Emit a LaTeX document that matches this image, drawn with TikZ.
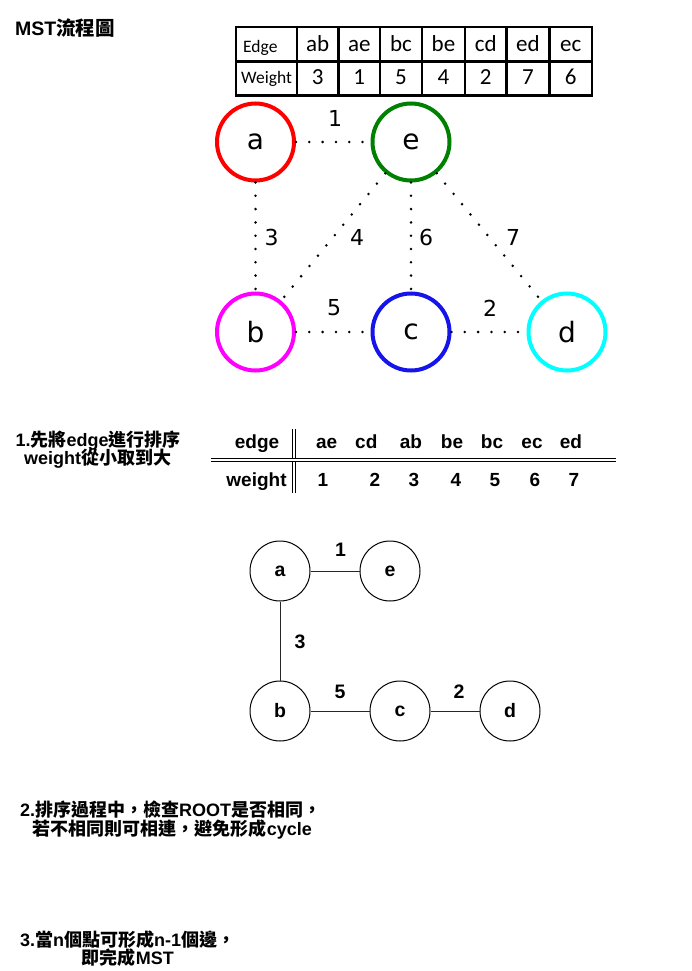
\documentclass[tikz,border=0pt]{standalone}
\usepackage{fontspec}
\setmainfont{Liberation Sans}
\newfontfamily\cjkfont{Noto Sans CJK TC}
\newfontfamily\calfont{Carlito}
\newfontfamily\dvfont{DejaVu Sans}
\newcommand\zh[1]{{\cjkfont\bfseries #1}}
\definecolor{nodered}{RGB}{255,0,0}
\definecolor{nodegreen}{RGB}{0,128,0}
\definecolor{nodemagenta}{RGB}{255,0,255}
\definecolor{nodeblue}{RGB}{20,20,235}
\definecolor{nodecyan}{RGB}{0,255,255}
\usetikzlibrary{positioning}

\begin{document}
\begin{tikzpicture}[
  x=1pt, y=-1pt,
  note/.style={anchor=base west, inner sep=0pt, font=\fontsize{18}{20}\selectfont\bfseries},
  tblline/.style={line width=2.7pt},
  tblhead/.style={anchor=base west, inner sep=0pt, font=\calfont\fontsize{17.5}{18}\selectfont},
  tblval/.style={anchor=base, inner sep=0pt, font=\calfont\fontsize{23}{23}\selectfont},
  g1node/.style={circle, line width=4pt, minimum size=77pt, inner sep=0pt, font=\dvfont\fontsize{28}{28}\selectfont},
  dotedge/.style={line width=2.8pt, line cap=round, dash pattern=on 0pt off 13.3pt},
  wlab/.style={inner sep=0pt, font=\dvfont\fontsize{22}{22}\selectfont},
  srt/.style={anchor=base, inner sep=0pt, font=\fontsize{19}{19}\selectfont\bfseries},
  g2node/.style={circle, draw, line width=1pt, minimum size=60pt, inner sep=0pt, font=\fontsize{19.5}{19.5}\selectfont\bfseries},
  g2edge/.style={line width=1pt, black!85},
  blab/.style={inner sep=0pt, font=\fontsize{19.5}{19.5}\selectfont\bfseries}
]
\useasboundingbox (0,0) rectangle (691,971);

% title
\node[note, font=\fontsize{19.5}{20}\selectfont\bfseries] (title) at (15,36) {MST\zh{流程圖}};

% edge table
\draw[tblline] (236,27) rectangle (592,95.5);
\draw[tblline] (236,61.5) -- (592,61.5);
\foreach \x in {297,338.5,380,422,465,506.5,549.5}
  \draw[tblline] (\x,27) -- (\x,95.5);
\node[tblhead] (hedge) at (243,53) {Edge};
\node[tblhead] (hweight) at (241,83.5) {Weight};
\foreach \e/\w/\x in {ab/3/317.75, ae/1/359.25, bc/5/401, be/4/443.5, cd/2/485.75, ed/7/528, ec/6/570.75}{
  \node[tblval] (t\e) at (\x,52) {\e};
  \node[tblval] (w\e) at (\x,85) {\w};
}

% graph
\node[g1node, draw=nodered] (a) at (255.5,142) {a};
\node[g1node, draw=nodegreen] (e) at (411,142) {e};
\node[g1node, draw=nodemagenta] (b) at (255.5,332) {b};
\node[g1node, draw=nodeblue] (c) at (411,332) {c};
\node[g1node, draw=nodecyan] (d) at (567,332) {d};

\draw[dotedge] (a) -- (e);
\draw[dotedge] (a) -- (b);
\draw[dotedge] (e) -- (b);
\draw[dotedge] (e) -- (c);
\draw[dotedge] (e) -- (d);
\draw[dotedge] (b) -- (c);
\draw[dotedge] (c) -- (d);

\node[wlab] (lae) at (335,118) {1};
\node[wlab] (lab) at (271.5,237) {3};
\node[wlab] (lbe) at (357,237) {4};
\node[wlab] (lce) at (426,237) {6};
\node[wlab] (lde) at (513,237) {7};
\node[wlab] (lbc) at (334,308) {5};
\node[wlab] (lcd) at (490,308) {2};

% step 1
\node[note] (s1a) at (15.5,446) {1.\zh{先將}edge\zh{進行排序}};
\node[note] (s1b) at (24,464.5) {weight\zh{從小取到大}};

\node[srt] (sedge) at (257,448) {edge};
\node[srt] (sweight) at (256.5,486.5) {weight};
\foreach \e/\x in {ae/326.7, cd/366.3, ab/411, be/452, bc/492, ec/532, ed/571}
  \node[srt] (s\e) at (\x,448) {\e};
\foreach \w/\x in {1/323, 2/375, 3/414, 4/456, 5/495, 6/535, 7/574}
  \node[srt] (n\w) at (\x,486.5) {\w};
\draw[double, double distance=2.3pt, line width=0.9pt] (294.3,429) -- (294.3,493);
\draw[double, double distance=2.3pt, line width=0.9pt] (211,460.2) -- (616,460.2);

% result tree
\node[g2node] (a2) at (280,571) {a};
\node[g2node] (e2) at (390,571) {e};
\node[g2node] (b2) at (280,711) {b};
\node[g2node] (c2) at (400,711) {c};
\node[g2node] (d2) at (510,711) {d};

\draw[g2edge] (a2) -- (e2);
\draw[g2edge] (a2) -- (b2);
\draw[g2edge] (b2) -- (c2);
\draw[g2edge] (c2) -- (d2);

\node[blab] (r1) at (340.5,550) {1};
\node[blab] (r3) at (300,641.5) {3};
\node[blab] (r5) at (340,691.5) {5};
\node[blab] (r2) at (459,691.5) {2};

% step 2, step 3
\node[note] (s2a) at (20,816.5) {2.\zh{排序過程中，檢查}ROOT\zh{是否相同，}};
\node[note] (s2b) at (32.7,835.5) {\zh{若不相同則可相連，避免形成}cycle};
\node[note] (s3a) at (20,946.5) {3.\zh{當}n\zh{個點可形成}n-1\zh{個邊，}};
\node[note] (s3b) at (81.7,964.3) {\zh{即完成}MST};
\end{tikzpicture}
\end{document}
